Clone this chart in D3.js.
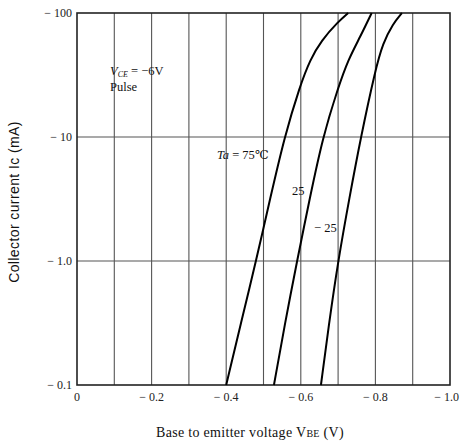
<!DOCTYPE html>
<html>
<head>
  <meta charset="utf-8">
  <title>Ic - VBE</title>
  <script src="https://d3js.org/d3.v7.min.js"></script>
  <style>
    body { margin: 0; background: #fff; }
    svg { display: block; }
    .tick-label { font-family: "Liberation Serif", "DejaVu Serif", serif; font-size: 12px; fill: #222; }
    .serif { font-family: "Liberation Serif", "DejaVu Serif", serif; fill: #111; }
  </style>
</head>
<body>
<div id="chart"></div>
<script>
  // data: VBE (V, magnitude) vs Ic (mA, magnitude)
  var temps = ["75", "25", "-25"];
  var vbe75 = [0.40, 0.44, 0.48, 0.518, 0.556, 0.598, 0.625, 0.655, 0.70, 0.727];
  var ic75  = [0.1, 0.32, 1.0, 3.2, 10, 26, 42, 60, 85, 100];
  var vbe25 = [0.528, 0.558, 0.59, 0.624, 0.659, 0.70, 0.727, 0.759, 0.79];
  var ic25  = [0.1, 0.32, 1.0, 3.2, 10, 25, 42, 64, 100];
  var vbeM25 = [0.654, 0.676, 0.70, 0.73, 0.761, 0.80, 0.82, 0.847, 0.871];
  var icM25  = [0.1, 0.32, 1.0, 3.2, 10, 35, 57, 82, 100];
  var xTicks = [0, 0.2, 0.4, 0.6, 0.8, 1.0];
  var xTickLabels = ["0", "\u2212 0.2", "\u2212 0.4", "\u2212 0.6", "\u2212 0.8", "\u2212 1.0"];
  var yTicks = [0.1, 1, 10, 100];
  var yTickLabels = ["\u2212 0.1", "\u2212 1.0", "\u2212 10", "\u2212 100"];

  var W = 460, H = 446;
  var padL = 77, padR = 450, padT = 13, padB = 385;

  var svg = d3.select("#chart").append("svg")
    .attr("width", W).attr("height", H);

  var x = d3.scaleLinear().domain([0, 1]).range([padL, padR]);
  var y = d3.scaleLog().domain([0.1, 100]).range([padB, padT]);

  // vertical grid every 0.1 V
  svg.append("g").selectAll("line")
    .data(d3.range(1, 10).map(function(d) { return d / 10; }))
    .enter().append("line")
    .attr("x1", function(d) { return x(d); }).attr("x2", function(d) { return x(d); })
    .attr("y1", padT).attr("y2", padB)
    .attr("stroke", "#555").attr("stroke-width", 1.1);

  // horizontal grid at decades
  svg.append("g").selectAll("line")
    .data([1, 10])
    .enter().append("line")
    .attr("x1", padL).attr("x2", padR)
    .attr("y1", function(d) { return y(d); }).attr("y2", function(d) { return y(d); })
    .attr("stroke", "#555").attr("stroke-width", 1.1);

  // frame
  svg.append("rect")
    .attr("x", padL).attr("y", padT)
    .attr("width", padR - padL).attr("height", padB - padT)
    .attr("fill", "none").attr("stroke", "#222").attr("stroke-width", 1.6);

  // y tick labels
  svg.append("g").selectAll("text")
    .data(yTicks)
    .enter().append("text")
    .attr("class", "tick-label")
    .attr("x", padL - 5)
    .attr("y", function(d) { return y(d) + 4; })
    .attr("text-anchor", "end")
    .text(function(d, i) { return yTickLabels[i]; });

  // x tick labels (last one pushed against the right edge as in the original)
  svg.append("g").selectAll("text")
    .data(xTicks)
    .enter().append("text")
    .attr("class", "tick-label")
    .attr("x", function(d, i) { return i === xTicks.length - 1 ? W - 1 : x(d); })
    .attr("y", padB + 16)
    .attr("text-anchor", function(d, i) { return i === xTicks.length - 1 ? "end" : "middle"; })
    .text(function(d, i) { return xTickLabels[i]; });

  // curves, smoothed a little since the points are hand-read
  var line = d3.line()
    .x(function(d) { return x(d[0]); })
    .y(function(d) { return y(d[1]); })
    .curve(d3.curveBasis);

  var series = [d3.zip(vbe75, ic75), d3.zip(vbe25, ic25), d3.zip(vbeM25, icM25)];
  svg.append("g").selectAll("path")
    .data(series)
    .enter().append("path")
    .attr("d", line)
    .attr("fill", "none")
    .attr("stroke", "#000")
    .attr("stroke-width", 2);

  // annotations
  var vce = svg.append("text").attr("class", "serif").attr("x", 110).attr("y", 75).attr("font-size", 12.5);
  vce.append("tspan").attr("font-style", "italic").text("V");
  vce.append("tspan").attr("font-style", "italic").attr("font-size", 8).attr("dy", 2).text("CE");
  vce.append("tspan").attr("dy", -2).text(" = \u22126V");
  svg.append("text").attr("class", "serif").attr("x", 110).attr("y", 91)
    .attr("font-size", 12.5).text("Pulse");

  var ta = svg.append("text").attr("class", "serif").attr("x", 217).attr("y", 159).attr("font-size", 12.5);
  ta.append("tspan").attr("font-style", "italic").text("Ta");
  ta.append("tspan").text(" = " + temps[0] + "\u2103");
  svg.append("text").attr("class", "serif").attr("x", 292).attr("y", 195)
    .attr("font-size", 12.5).text(temps[1]);
  svg.append("text").attr("class", "serif").attr("x", 314).attr("y", 232)
    .attr("font-size", 12.5).text("\u2212 " + temps[2].slice(1));

  // axis titles
  svg.append("text")
    .attr("transform", "translate(19," + 202 + ") rotate(-90)")
    .attr("text-anchor", "middle")
    .attr("font-family", "Liberation Sans, Arial, sans-serif")
    .attr("font-size", 14).attr("letter-spacing", 0.4).attr("fill", "#111")
    .text("Collector current  Ic  (mA)");

  var xl = svg.append("text").attr("class", "serif")
    .attr("x", 250).attr("y", 437).attr("text-anchor", "middle")
    .attr("font-size", 14).attr("letter-spacing", 0.3);
  xl.append("tspan").text("Base to emitter voltage  V");
  xl.append("tspan").attr("font-size", 10).text("BE");
  xl.append("tspan").text("  (V)");
</script>
</body>
</html>
